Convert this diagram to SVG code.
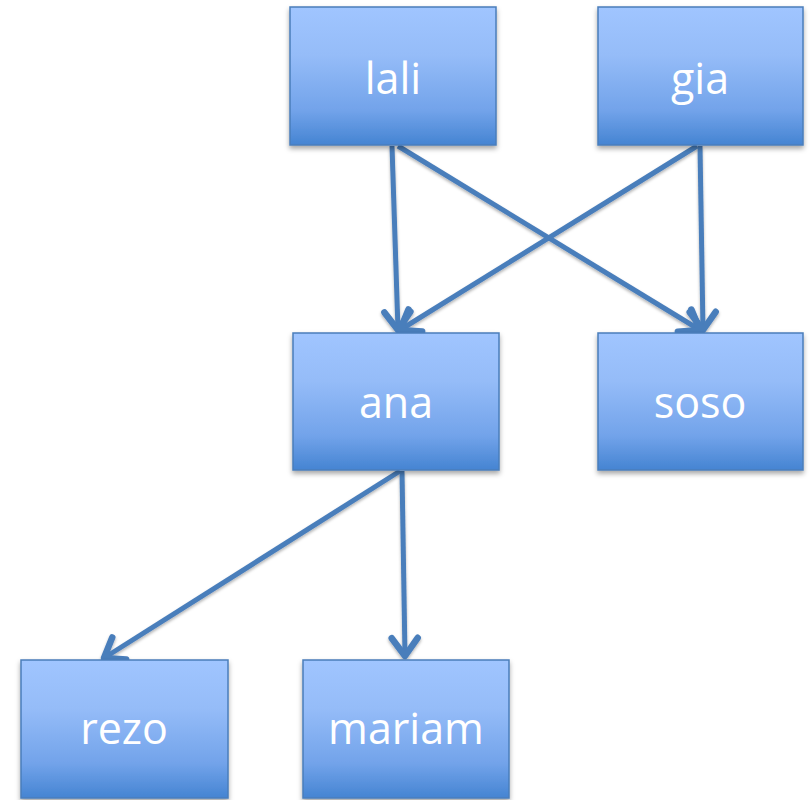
<svg xmlns="http://www.w3.org/2000/svg" width="812" height="800" viewBox="0 0 812 800">
  <defs>
    <linearGradient id="boxFill" x1="0" y1="0" x2="0" y2="1">
      <stop offset="0" stop-color="#a0c5ff"/>
      <stop offset="0.35" stop-color="#95bcf8"/>
      <stop offset="0.75" stop-color="#72a3ea"/>
      <stop offset="1" stop-color="#4584d2"/>
    </linearGradient>
    <filter id="shadow" x="-10%" y="-10%" width="120%" height="130%">
      <feDropShadow dx="0" dy="3" stdDeviation="2.5" flood-color="#000" flood-opacity="0.35"/>
    </filter>
    <filter id="lineShadow" x="-20%" y="-20%" width="140%" height="140%">
      <feDropShadow dx="0" dy="2" stdDeviation="1.5" flood-color="#000" flood-opacity="0.3"/>
    </filter>
    <marker id="arrow" markerUnits="userSpaceOnUse" viewBox="-24 -18 28 36" markerWidth="28" markerHeight="36" refX="0" refY="0" orient="auto">
      <path d="M-18,-13 L0,0 L-18,13" fill="none" stroke="#4a7ebb" stroke-width="6.5" stroke-linecap="round" stroke-linejoin="round"/>
    </marker>
  </defs>
  <style>
    .box { fill: url(#boxFill); stroke: #4a7ebb; stroke-width: 1.5; filter: url(#shadow); }
    .label { font-family: "Open Sans", "Liberation Sans", sans-serif; font-size: 43px; fill: #ffffff; text-anchor: middle; }
    .edge { stroke: #4a7ebb; stroke-width: 5; fill: none; marker-end: url(#arrow); }
  </style>

  <!-- connectors -->
  <g id="connectors" filter="url(#lineShadow)">
    <line class="edge" x1="392" y1="146" x2="398" y2="330"/>
    <line class="edge" x1="398" y1="146" x2="700" y2="330"/>
    <line class="edge" x1="697" y1="146" x2="400" y2="330"/>
    <line class="edge" x1="700" y1="146" x2="703" y2="330"/>
    <line class="edge" x1="400" y1="471" x2="104" y2="658"/>
    <line class="edge" x1="402" y1="471" x2="405" y2="656"/>
  </g>

  <!-- nodes -->
  <g id="lali">
    <rect class="box" x="290" y="7" width="206" height="138"/>
    <text class="label" x="393" y="94">lali</text>
  </g>
  <g id="gia">
    <rect class="box" x="598" y="7" width="205" height="138"/>
    <text class="label" x="700" y="94">gia</text>
  </g>
  <g id="ana">
    <rect class="box" x="293" y="333" width="206" height="137"/>
    <text class="label" x="396" y="418">ana</text>
  </g>
  <g id="soso">
    <rect class="box" x="598" y="333" width="205" height="137"/>
    <text class="label" x="700" y="418">soso</text>
  </g>
  <g id="rezo">
    <rect class="box" x="21" y="660" width="207" height="138"/>
    <text class="label" x="124" y="744">rezo</text>
  </g>
  <g id="mariam">
    <rect class="box" x="303" y="660" width="206" height="138"/>
    <text class="label" x="406" y="744">mariam</text>
  </g>
</svg>
